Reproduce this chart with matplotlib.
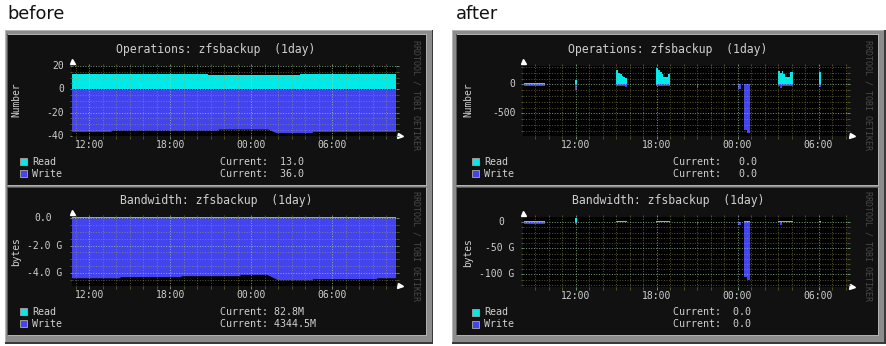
import numpy as np
import matplotlib
matplotlib.use("Agg")
import matplotlib.pyplot as plt
from matplotlib.patches import Rectangle
from matplotlib.transforms import blended_transform_factory as blend

# ---------------- data (clock hours; 24+ = next day) ----------------
hour_ticks = [12, 18, 24, 30]
hour_labels = ["12:00", "18:00", "00:00", "06:00"]
series_names = ["Read", "Write"]

# before: piecewise lines (time, value)
before_ops_read_t = [10.68, 20.81, 20.81, 27.61, 27.61, 34.68]
before_ops_read = [13, 13, 12, 12, 13, 13]
before_ops_write_t = [10.68, 13.61, 13.61, 21.55, 21.55, 25.21, 25.81, 28.52, 28.52, 34.68]
before_ops_write = [-36, -36, -35, -35, -34, -34, -37, -37, -36, -36]
before_bw_read_t = [10.68, 34.68]
before_bw_read = [0.083, 0.083]          # GB
before_bw_write_t = [10.68, 14.27, 14.27, 18.79, 18.79, 23.16, 23.16, 25.14, 25.95,
                     28.52, 28.52, 33.29, 33.29, 34.68]
before_bw_write = [-4.32, -4.32, -4.24, -4.24, -4.17, -4.17, -4.07, -4.07, -4.46,
                   -4.46, -4.39, -4.39, -4.32, -4.32]   # GB

# after: step series (value holds from each time to the next)
after_t = [8.19, 9.74, 11.96, 12.09, 15.00, 15.17, 15.30, 15.42, 15.54, 15.67, 15.79, 15.83,
           17.96, 18.13, 18.26, 18.39, 18.50, 18.87, 19.00, 20.98, 21.05, 23.70, 23.78,
           24.01, 24.24, 24.48, 24.70, 24.93, 27.02, 27.15, 27.27, 27.35, 27.52, 27.89,
           28.13, 30.06, 30.19, 32.13]
after_ops_read = [17, 0, 80, 0, 244, 200, 170, 150, 130, 110, 0, 0,
                  273, 244, 205, 170, 130, 181, 0, 0, 0, 5, 0,
                  0, 0, 10, 10, 0, 232, 188, 232, 176, 130, 215,
                  0, 215, 0, 0]
after_ops_write = [-24, 0, -105, 0, -29, -29, -29, -29, -29, -50, -50, 0,
                   -24, -24, -24, -24, -24, -24, 0, -58, 0, -10, 0,
                   -86, 0, -790, -836, 0, -24, -58, -24, -24, -24, -24,
                   0, -41, 0, 0]
after_bw_read = [2, 0, 8.5, 0, 2, 2, 2, 2, 2, 2, 0, 0,
                 2, 2, 2, 2, 2, 2, 0, 0, 0, 1.5, 0,
                 0, 0, 2, 2, 0, 2, 2, 2, 2, 2, 2,
                 0, 2, 0, 0]
after_bw_write = [-3, 0, -4, 0, 0, 0, 0, 0, 0, 0, 0, 0,
                  0, 0, 0, 0, 0, 0, 0, -4, 0, 0, 0,
                  -5, 0, -106, -110, 0, 0, -5, 0, 0, 0, 0,
                  0, 0, 0, 0]

before_ops_current = ["Current:  13.0", "Current:  36.0"]
after_ops_current = ["Current:   0.0", "Current:   0.0"]
before_bw_current = ["Current: 82.8M", "Current: 4344.5M"]
after_bw_current = ["Current:  0.0", "Current:  0.0"]

ops_ticks_before = [20, 0, -20, -40]
ops_labels_before = ["20", "0", "-20", "-40"]
ops_ticks_after = [0, -500]
ops_labels_after = ["0", "-500"]
bw_ticks_before = [0, -2, -4]
bw_labels_before = ["0.0  ", "-2.0 G", "-4.0 G"]
bw_ticks_after = [0, -50, -100]
bw_labels_after = ["0  ", "-50 G", "-100 G"]

# ---------------- style ----------------
W, H = 886, 346
CYAN = "#00eaea"
BLUE = "#4444ee"
TXT = "#cfcfcf"
MONO = "DejaVu Sans Mono"
MAJ_C, MIN_C = "#a8d8a8", "#a8a858"

fig = plt.figure(figsize=(W / 100, H / 100), dpi=100)
fig.patch.set_facecolor("white")


def fx(x):
    return x / W


def fy(y):
    return 1 - y / H


def rect(x0, y0, x1, y1, color, z=-10, **kw):
    fig.add_artist(Rectangle((fx(x0), fy(y1)), (x1 - x0) / W, (y1 - y0) / H,
                             transform=fig.transFigure, facecolor=color,
                             edgecolor=kw.pop("ec", "none"), zorder=z, **kw))


def ftext(x, y, s, **kw):
    kw.setdefault("family", MONO)
    kw.setdefault("color", TXT)
    fig.text(fx(x), fy(y), s, **kw)


# panel frames
for (a, b), (gx0, gx1) in [((5, 433.3), (8.3, 425.7)), ((451.7, 885.5), (457.3, 878.0))]:
    rect(a, 30, b, 343.5, "#8c8c8c", z=-12)
    rect(a, 30, b, 31, "#b4b4b4", z=-11)
    rect(a, 30, a + 1, 343.5, "#b4b4b4", z=-11)
    rect(b - 1.5, 30, b, 343.5, "#3a3a3a", z=-11)
    rect(a, 342, b, 343.5, "#3a3a3a", z=-11)
    for gy0, gy1 in [(34.5, 185.0), (188.3, 335.3)]:
        rect(gx0 - 1, gy0 - 1, gx1, gy1, "#555555", z=-9)
        rect(gx0, gy0, gx1 + 1, gy1 + 1, "#b0b0b0", z=-9)
        rect(gx0, gy0, gx1, gy1, "#111111", z=-8)

ftext(7.3, 19.3, "before", family="DejaVu Sans", color="#111111", fontsize=12.8, va="baseline")
ftext(455.7, 19.3, "after", family="DejaVu Sans", color="#111111", fontsize=12.8, va="baseline")


def draw_chart(px, xlim, ylim, tr, vr, tw, vw, step, yticks, ylabels, yminor,
               title, ylab, current, shift, top, ygap):
    x0, x1, y0, y1 = px
    ax = fig.add_axes([fx(x0), fy(y1), (x1 - x0) / W, (y1 - y0) / H])
    ax.set_facecolor("black")
    kw = dict(linewidth=0, antialiased=True)
    if step:
        ax.fill_between(tr, 0, vr, step="post", color=CYAN, **kw)
        ax.fill_between(tw, 0, vw, step="post", color=BLUE, **kw)
    else:
        ax.fill_between(tr, 0, vr, color=CYAN, **kw)
        ax.fill_between(tw, 0, vw, color=BLUE, **kw)
    ax.set_xlim(*xlim)
    ax.set_ylim(*ylim)
    ax.set_xticks(hour_ticks)
    ax.set_xticks(np.arange(np.ceil(xlim[0]), xlim[1]), minor=True)
    ax.set_yticks(yticks)
    ax.set_yticks(yminor, minor=True)
    ax.tick_params(which="both", direction="out", top=True, right=True, bottom=True, left=True,
                   labelbottom=False, labelleft=False, length=1.8, width=0.7)
    ax.tick_params(which="major", color="#6b8f6b")
    ax.tick_params(which="minor", color="#505028")
    ax.set_axisbelow(False)
    ax.grid(which="major", color=MAJ_C, alpha=0.7, lw=0.72, ls=(0, (1, 1.6)))
    ax.grid(which="minor", color=MIN_C, alpha=0.5, lw=0.72, ls=(0, (1, 1.6)))
    for s in ax.spines.values():
        s.set_visible(False)
    wpx, hpx = x1 - x0, y1 - y0
    # arrows
    ax.plot([0], [1 + 4.7 / hpx], marker="^", ms=3.6, color="white", mec="white",
            transform=ax.transAxes, clip_on=False)
    ax.plot([1 + 4.5 / wpx], [0], marker=">", ms=3.6, color="white", mec="white",
            transform=ax.transAxes, clip_on=False)
    # y tick labels
    bt = blend(ax.transAxes, ax.transData)
    for v, lab in zip(yticks, ylabels):
        s = lab.rstrip(" ")
        n = len(lab) - len(s)
        ax.text(-(ygap + n * 5.25) / wpx, v, s, transform=bt, ha="right", va="center",
                family=MONO, fontsize=7.0, color=TXT)
    # x tick labels
    bx = blend(ax.transData, ax.transAxes)
    for t, lab in zip(hour_ticks, hour_labels):
        ax.text(t, -9.3 / hpx, lab, transform=bx, ha="center", va="center",
                family=MONO, fontsize=7.0, color=TXT)
    # title / labels / legend
    ftext(216 + shift, top + 14.5, title, ha="center", va="center", fontsize=8.3)
    ftext(16 + shift, (y0 + y1) / 2 + (-1 if ylab == "Number" else 0.5), ylab,
          rotation=90, ha="center", va="center", fontsize=6.9)
    ftext(416 + shift, top + 60.5, "RRDTOOL / TOBI OETIKER", rotation=270,
          ha="center", va="center", fontsize=6.0, color="#4a4a4a")
    ly = [y1 + 25.6, y1 + 37.6]
    for i, (nm, col) in enumerate(zip(series_names, [CYAN, BLUE])):
        rect(19.5 + shift, ly[i] - 3.6, 26.7 + shift, ly[i] + 3.6, col, z=5, ec="#9a9a9a", lw=0.7)
        ftext(32.3 + shift, ly[i], nm, ha="left", va="center", fontsize=7.2)
        ftext(220 + shift + (1 if shift else 0), ly[i], current[i], ha="left", va="center", fontsize=7.2)


draw_chart((71.5, 395.5, 66, 136), (10.68, 34.68), (-40, 20),
           before_ops_read_t, before_ops_read, before_ops_write_t, before_ops_write, False,
           ops_ticks_before, ops_labels_before, np.arange(-35, 20, 5),
           "Operations: zfsbackup  (1day)", "Number", before_ops_current, 0, 34.5, 7.2)
draw_chart((523.3, 847.3, 66, 136), (8.13, 32.13), (-891, 316),
           after_t, after_ops_read, after_t, after_ops_write, True,
           ops_ticks_after, ops_labels_after, np.arange(-800, 400, 100),
           "Operations: zfsbackup  (1day)", "Number", after_ops_current, 452, 34.5, 7.6)
draw_chart((71.5, 395.5, 216.5, 286.0), (10.68, 34.68), (-4.91, 0.086),
           before_bw_read_t, before_bw_read, before_bw_write_t, before_bw_write, False,
           bw_ticks_before, bw_labels_before, np.arange(-4.5, 0.1, 0.5),
           "Bandwidth: zfsbackup  (1day)", "bytes", before_bw_current, 0, 185.8, 8.8)
draw_chart((523.3, 847.3, 217.3, 286.7), (8.13, 32.13), (-123.8, 9.6),
           after_t, after_bw_read, after_t, after_bw_write, True,
           bw_ticks_after, bw_labels_after, np.arange(-120, 10, 10),
           "Bandwidth: zfsbackup  (1day)", "bytes", after_bw_current, 452, 185.8, 8.6)

fig.savefig("out.png", dpi=100, facecolor="white")
